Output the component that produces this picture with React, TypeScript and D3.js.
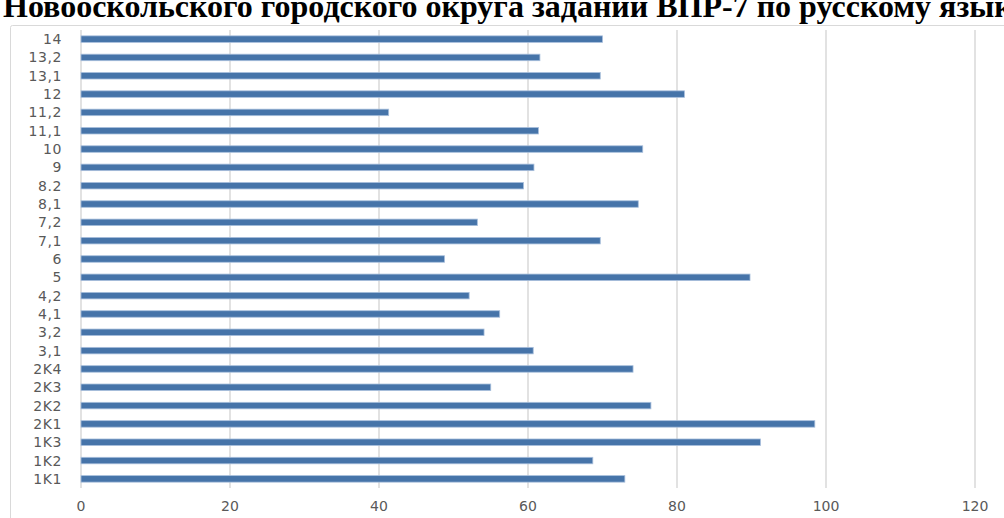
import React from "react";
import * as d3 from "d3";

const categories = ["14", "13,2", "13,1", "12", "11,2", "11,1", "10", "9", "8.2", "8,1", "7,2", "7,1", "6", "5", "4,2", "4,1", "3,2", "3,1", "2K4", "2K3", "2K2", "2K1", "1K3", "1K2", "1K1"];
const values = [70.0, 61.6, 69.7, 81.0, 41.3, 61.4, 75.4, 60.8, 59.4, 74.8, 53.2, 69.7, 48.8, 89.8, 52.1, 56.2, 54.1, 60.7, 74.1, 55.0, 76.5, 98.5, 91.2, 68.7, 73.0];
const xTicks = [0, 20, 40, 60, 80, 100, 120];
const titleText = "Новооскольского городского округа заданий ВПР-7 по русскому языку";

export default function App() {
  const W = 1004, H = 518;
  const x = d3.scaleLinear().domain([0, 120]).range([81, 975]);
  const y = d3.scaleBand().domain(categories).range([30, 488]).paddingInner(0.645).paddingOuter(0.32);
  const labelFont = "'DejaVu Sans', Verdana, sans-serif";
  return (
    <svg width={W} height={H} style={{ position: "absolute", left: 0, top: 0, background: "#fff" }}>
      <rect x={0} y={0} width={W} height={H} fill="#fff" />
      <text x={3} y={17} fontFamily="'Liberation Serif', 'Times New Roman', serif" fontWeight="bold" fontSize={32} fill="#000">{titleText}</text>
      <rect x={10.5} y={25.5} width={1010} height={520} fill="none" stroke="#d9d9d9" strokeWidth={1} rx={2} />
      {xTicks.map(t => (
        <line key={"g" + t} x1={x(t)} x2={x(t)} y1={30} y2={488} stroke="#d9d9d9" strokeWidth={1.5} />
      ))}
      {categories.map((c, i) => (
        <rect key={"b" + c} x={x(0)} y={y(c)} width={x(values[i]) - x(0)} height={y.bandwidth()} fill="#4674a9" stroke="#a8bfdc" strokeWidth={0.8} />
      ))}
      {categories.map(c => (
        <text key={"l" + c} x={62} y={(y(c) as number) + y.bandwidth() / 2} dy="0.36em" textAnchor="end" fontFamily={labelFont} fontSize={14} letterSpacing={0.6} fill="#595959">{c}</text>
      ))}
      {xTicks.map(t => (
        <text key={"t" + t} x={x(t)} y={511} textAnchor="middle" fontFamily={labelFont} fontSize={14} fill="#595959">{t}</text>
      ))}
    </svg>
  );
}
